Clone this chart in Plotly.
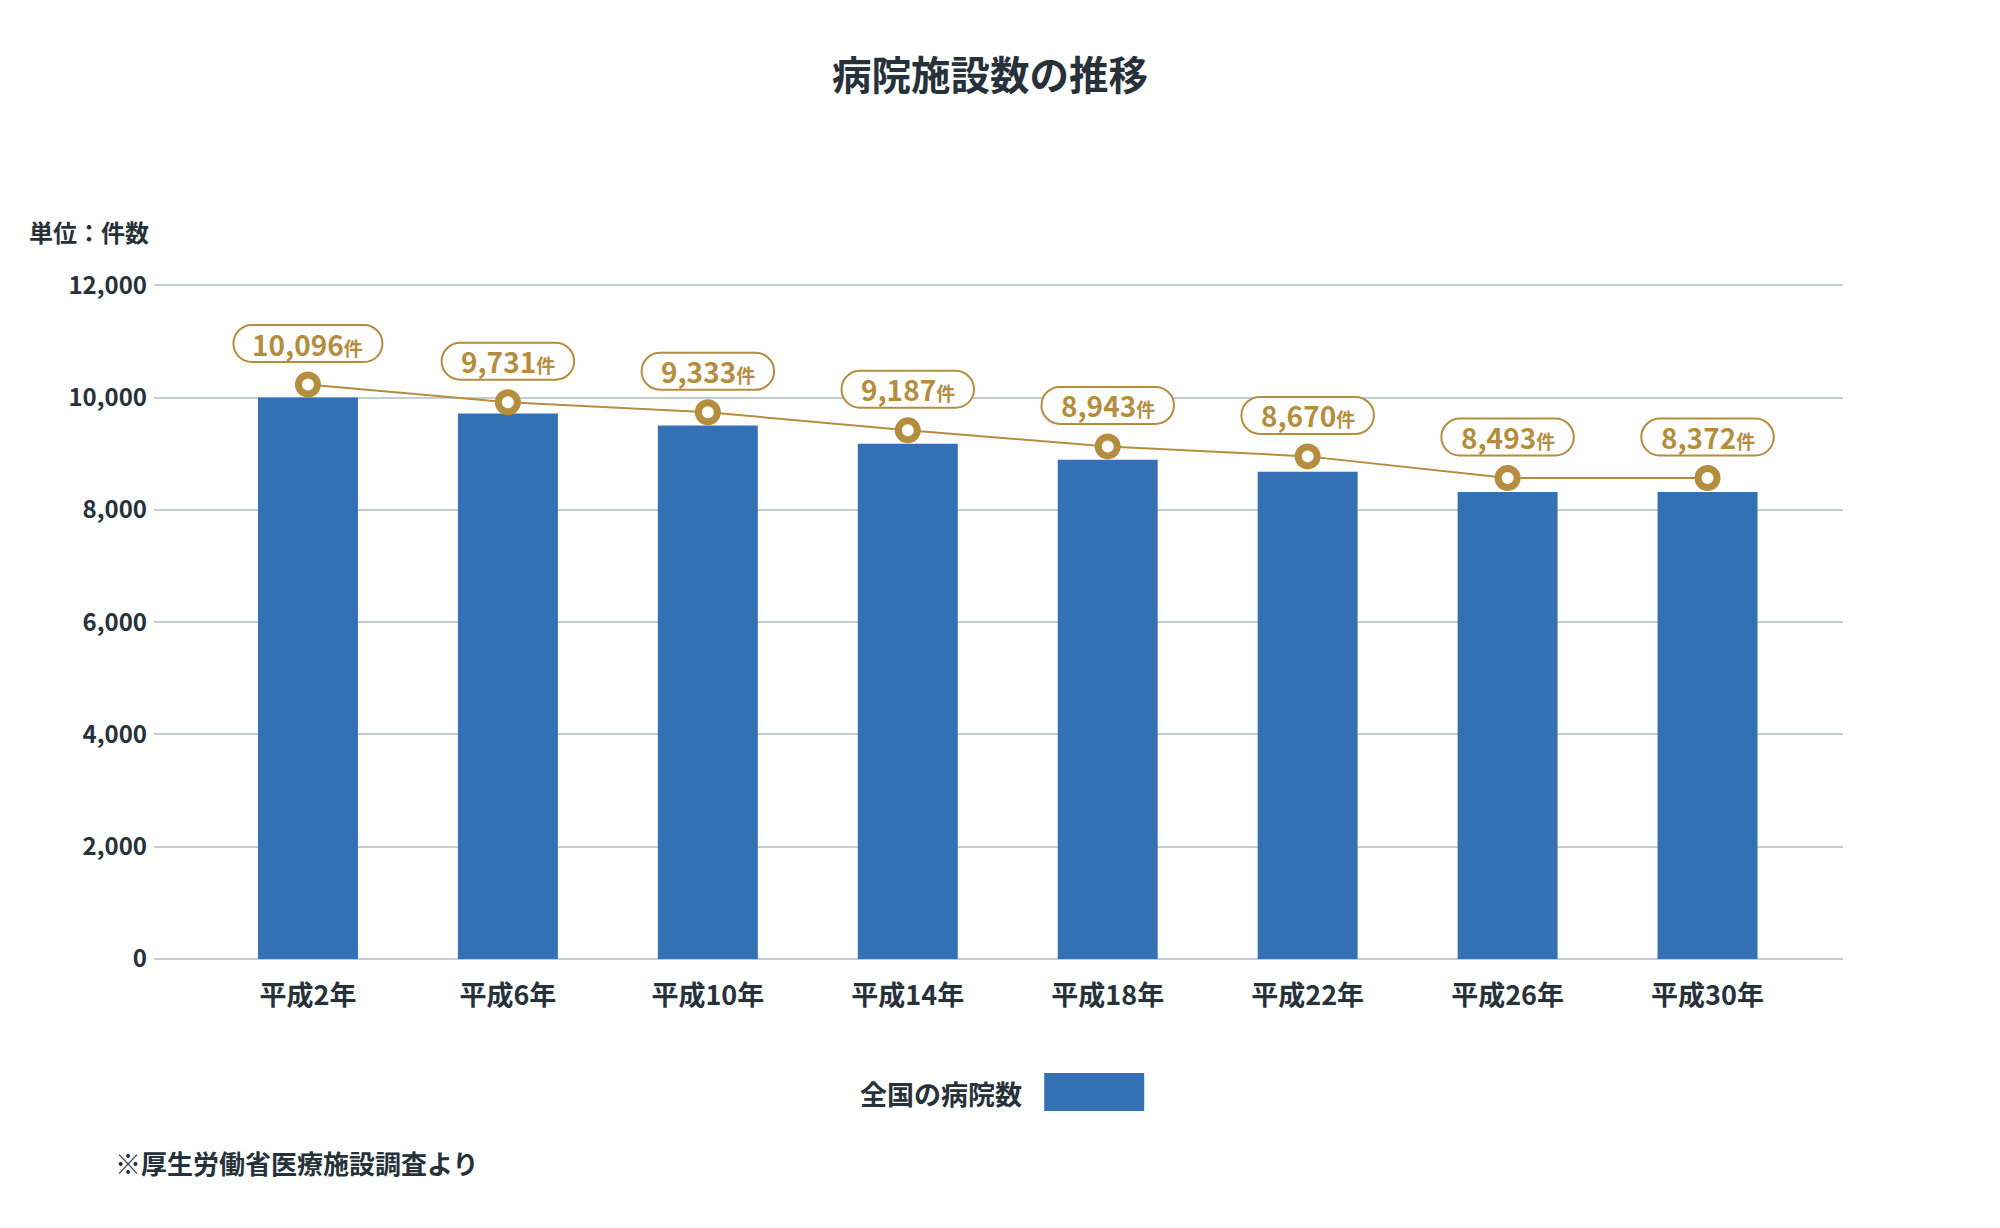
import plotly.graph_objects as go

# ---- data ----
categories = ["平成2年", "平成6年", "平成10年", "平成14年", "平成18年", "平成22年", "平成26年", "平成30年"]
bar_values = [10000, 9714, 9500, 9179, 8893, 8679, 8316, 8316]
line_values = [10232, 9916, 9738, 9416, 9130, 8952, 8566, 8566]
label_values = [10096, 9731, 9333, 9187, 8943, 8670, 8493, 8372]
y_ticks = [0, 2000, 4000, 6000, 8000, 10000, 12000]

title_text = "病院施設数の推移"
unit_text = "単位：件数"
legend_text = "全国の病院数"
note_text = "※厚生労働省医療施設調査より"

# ---- style ----
W, H = 2000, 1228
Y_TOP = 12040
ML, MR, MB = 153.5, 157, 269
PX_PER_UNIT = (959 - 285.7) / 12000
MT = 285.7 - (Y_TOP - 12000) * PX_PER_UNIT
PW = W - ML - MR
PH = H - MT - MB
FONT = "Noto Sans CJK JP"
DARK = "#27313A"
GOLD = "#B48D3F"
BLUE = "#3470B4"
GRID = "#C3CDD6"


def px_x(px):
    return (px - ML) / PW


def px_y(py):
    return (H - MB - py) / PH


fig = go.Figure()

fig.add_trace(go.Bar(
    x=categories, y=bar_values, width=0.5,
    marker=dict(color=BLUE, line=dict(width=0)),
    showlegend=False, hoverinfo="skip",
))

fig.add_trace(go.Scatter(
    x=categories, y=line_values, mode="lines+markers",
    line=dict(color=GOLD, width=2),
    marker=dict(symbol="circle", size=19, color="white", line=dict(color=GOLD, width=7)),
    showlegend=False, hoverinfo="skip",
))

# pill-shaped value labels
shapes = []
annotations = []
OFF = 41
BH = 37
k = 0.5523
for i, (cat, yv, lv) in enumerate(zip(categories, line_values, label_values)):
    ndig = len(str(lv))
    BW = 132.5 + 16.5 * (ndig - 4)
    r = BH / 2
    x0, x1 = -BW / 2, BW / 2
    yb, yt = OFF - r, OFF + r
    path = (
        f"M {x0 + r},{yb} L {x1 - r},{yb} "
        f"C {x1 - r + k * r},{yb} {x1},{OFF - k * r} {x1},{OFF} "
        f"C {x1},{OFF + k * r} {x1 - r + k * r},{yt} {x1 - r},{yt} "
        f"L {x0 + r},{yt} "
        f"C {x0 + r - k * r},{yt} {x0},{OFF + k * r} {x0},{OFF} "
        f"C {x0},{OFF - k * r} {x0 + r - k * r},{yb} {x0 + r},{yb} Z"
    )
    shapes.append(dict(
        type="path", xref="x", yref="y", xsizemode="pixel", ysizemode="pixel",
        xanchor=i, yanchor=yv, path=path,
        line=dict(color=GOLD, width=2), fillcolor="white", layer="above",
    ))
    annotations.append(dict(
        x=i, y=yv, xref="x", yref="y", yshift=OFF, showarrow=False,
        text=f"{lv:,}<span style=\"font-size:19px\">件</span>",
        font=dict(family=FONT, size=28, color=GOLD, weight=700),
        xanchor="center", yanchor="middle",
    ))

# unit text
annotations.append(dict(
    x=px_x(26), y=px_y(232), xref="paper", yref="paper", showarrow=False,
    text=unit_text, xanchor="left", yanchor="middle",
    font=dict(family=FONT, size=24, color=DARK, weight=700),
))
# legend text + swatch
annotations.append(dict(
    x=px_x(1024), y=px_y(1093), xref="paper", yref="paper", showarrow=False,
    text=legend_text, xanchor="right", yanchor="middle",
    font=dict(family=FONT, size=27, color=DARK, weight=700),
))
shapes.append(dict(
    type="rect", xref="paper", yref="paper",
    x0=px_x(1044), x1=px_x(1144), y0=px_y(1111), y1=px_y(1073),
    fillcolor=BLUE, line=dict(width=0),
))
# footnote
annotations.append(dict(
    x=px_x(112), y=px_y(1162), xref="paper", yref="paper", showarrow=False,
    text=note_text, xanchor="left", yanchor="middle",
    font=dict(family=FONT, size=26, color=DARK, weight=700),
))

fig.update_layout(
    width=W, height=H, autosize=False,
    margin=dict(l=ML, r=MR, t=MT, b=MB, pad=0),
    paper_bgcolor="white", plot_bgcolor="white",
    title=dict(
        text=title_text, x=990 / W, xref="container", xanchor="center",
        y=1 - 76.5 / H, yref="container", yanchor="middle",
        font=dict(family=FONT, size=39.5, color=DARK, weight=700),
    ),
    xaxis=dict(
        type="category", range=[-0.77, -0.77 + PW / 200],
        showgrid=False, showline=False, zeroline=False, ticks="",
        ticklabelstandoff=18,
        tickfont=dict(family=FONT, size=27, color=DARK, weight=700),
    ),
    yaxis=dict(
        range=[0, Y_TOP], tickvals=y_ticks, tickformat=",",
        showgrid=True, gridcolor=GRID, gridwidth=1.5,
        zeroline=True, zerolinecolor=GRID, zerolinewidth=2,
        showline=False, ticks="", ticklabelstandoff=6,
        tickfont=dict(family=FONT, size=24, color=DARK, weight=700),
    ),
    shapes=shapes, annotations=annotations,
    showlegend=False, bargap=0.5,
)

fig.write_html("out.html")
